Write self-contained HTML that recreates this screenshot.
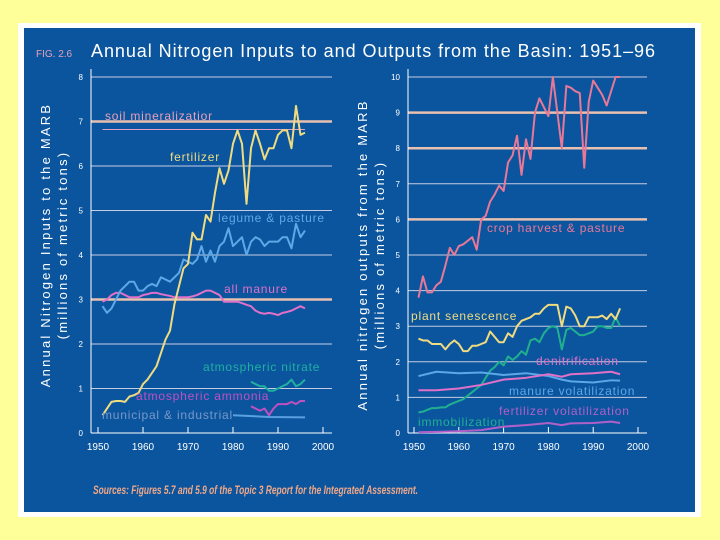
<!DOCTYPE html>
<html><head><meta charset="utf-8"><style>
body{margin:0;width:720px;height:540px;background:#ffff99;overflow:hidden;font-family:"Liberation Sans",sans-serif}
svg{position:absolute;left:0;top:0}
</style></head><body>
<svg id="s" width="720" height="540">
<rect x="18" y="23" width="683" height="494" fill="#ffffff"/>
<rect x="24" y="28" width="671" height="484" fill="#0b559e"/>
<text x="36" y="57" fill="#e8a0b8" font-size="10">FIG. 2.6</text>
<text x="91" y="57" fill="#ffffff" font-size="18" textLength="564" lengthAdjust="spacing">Annual Nitrogen Inputs to and Outputs from the Basin: 1951–96</text>
<text transform="translate(50,245) rotate(-90)" text-anchor="middle" fill="#ffffff" font-size="13" letter-spacing="2.2">Annual Nitrogen Inputs to the MARB</text>
<text transform="translate(67,245) rotate(-90)" text-anchor="middle" fill="#ffffff" font-size="13" letter-spacing="2.2">(millions of metric tons)</text>
<text transform="translate(367,255) rotate(-90)" text-anchor="middle" fill="#ffffff" font-size="13" letter-spacing="2.2">Annual nitrogen outputs from the MARB</text>
<text transform="translate(384,255) rotate(-90)" text-anchor="middle" fill="#ffffff" font-size="13" letter-spacing="2.2">(millions of metric tons)</text>
<text x="93" y="494" fill="#f0a888" font-size="11.5" font-weight="bold" font-style="italic" textLength="325" lengthAdjust="spacingAndGlyphs">Sources: Figures 5.7 and 5.9 of the Topic 3 Report for the Integrated Assessment.</text>
<g id="g"></g>
</svg>
<script>
const years = [];for(let y=1951;y<=1996;y++)years.push(y);
const fertilizer=[0.4,0.55,0.7,0.72,0.72,0.7,0.82,0.85,0.9,1.1,1.2,1.35,1.5,1.8,2.1,2.3,2.9,3.3,3.7,3.8,4.5,4.35,4.35,4.9,4.75,5.4,5.95,5.6,5.9,6.5,6.8,6.5,5.15,6.4,6.8,6.5,6.15,6.4,6.4,6.7,6.8,6.8,6.4,7.35,6.7,6.75];
const legume=[2.85,2.7,2.8,3.0,3.2,3.3,3.4,3.4,3.2,3.2,3.3,3.35,3.3,3.5,3.45,3.4,3.5,3.6,3.9,3.85,3.8,3.9,4.2,3.85,4.1,3.85,4.2,4.3,4.6,4.2,4.3,4.4,4.0,4.3,4.4,4.35,4.2,4.3,4.3,4.3,4.4,4.4,4.15,4.7,4.4,4.55];
const manure=[2.95,3.0,3.1,3.15,3.15,3.1,3.05,3.05,3.05,3.1,3.12,3.15,3.15,3.12,3.1,3.08,3.05,3.05,3.05,3.05,3.07,3.1,3.15,3.2,3.2,3.15,3.1,2.95,2.95,2.95,2.95,2.92,2.88,2.85,2.75,2.7,2.68,2.7,2.68,2.65,2.7,2.72,2.75,2.8,2.85,2.8];
const soilMin=[6.82,6.82];const soilYears=[1951,1996];
const lateYears=[1984,1985,1986,1987,1988,1989,1990,1991,1992,1993,1994,1995,1996];
const atmNitrate=[1.15,1.1,1.05,1.05,0.95,0.95,1.0,1.05,1.1,1.2,1.05,1.1,1.2];
const atmAmmonia=[0.6,0.55,0.5,0.55,0.4,0.55,0.65,0.65,0.65,0.7,0.65,0.72,0.72];
const munYears=[1980,1988,1996];const municipal=[0.4,0.36,0.35];
const crop=[3.8,4.4,3.95,3.95,4.15,4.25,4.7,5.2,5.0,5.25,5.3,5.4,5.5,5.15,6.0,6.1,6.5,6.7,6.95,6.8,7.6,7.8,8.35,7.25,8.25,7.7,9.0,9.4,9.15,8.9,10.0,9.0,8.0,9.75,9.7,9.6,9.55,7.45,9.3,9.9,9.7,9.5,9.2,9.6,10.0,10.0];
const senescence=[2.65,2.6,2.6,2.5,2.5,2.5,2.35,2.5,2.6,2.5,2.3,2.3,2.45,2.45,2.5,2.55,2.85,2.7,2.55,2.55,2.8,2.7,3.0,3.15,3.2,3.25,3.35,3.35,3.5,3.6,3.6,3.6,3.0,3.55,3.5,3.3,3.0,3.0,3.25,3.25,3.25,3.3,3.2,3.35,3.2,3.5];
const immob=[0.58,0.6,0.65,0.7,0.7,0.72,0.72,0.8,0.85,0.9,0.95,1.05,1.15,1.25,1.35,1.55,1.75,1.85,2.0,1.9,2.15,2.05,2.15,2.3,2.2,2.6,2.65,2.55,2.8,2.95,3.0,2.95,2.35,2.9,2.95,2.85,2.75,2.75,2.8,2.85,3.0,3.0,2.95,2.95,3.25,3.0];
const sparseYears=[1951,1955,1960,1965,1970,1975,1980,1983,1985,1990,1994,1996];
const denit=[1.2,1.2,1.25,1.35,1.5,1.55,1.65,1.58,1.65,1.68,1.72,1.65];
const manVol=[1.6,1.72,1.68,1.7,1.63,1.68,1.6,1.5,1.45,1.42,1.48,1.47];
const fertVol=[0.02,0.03,0.05,0.08,0.18,0.22,0.28,0.22,0.27,0.28,0.32,0.28];
const leftTicks=[0,1,2,3,4,5,6,7,8];const rightTicks=[0,1,2,3,4,5,6,7,8,9,10];
const xTicks=[1950,1960,1970,1980,1990,2000];

const NS='http://www.w3.org/2000/svg',g=document.getElementById('g');
function el(t,a,txt){const e=document.createElementNS(NS,t);for(const k in a)e.setAttribute(k,a[k]);if(txt)e.textContent=txt;g.appendChild(e);return e;}
const L={x:y=>98+(y-1950)*4.5,y:v=>433-v*44.5,x0:91,x1:332};
const R={x:y=>414+(y-1950)*4.48,y:v=>433-v*35.6,x0:408,x1:647};
function axes(A,ticks,thick,name){
  ticks.forEach(t=>{
    const th=thick.includes(t);
    if(t>0){const l=el('line',{x1:A.x0,x2:A.x1,y1:A.y(t),y2:A.y(t),stroke:th?'#e8c0b0':'#c8cce0','stroke-width':th?2.5:1});
    }
    const tx=el('text',{x:A.x0-8,y:A.y(t)+3,fill:'#fff','font-size':8,'text-anchor':'end'},String(t));
    
  });
  const ax=el('line',{x1:A.x0,x2:A.x0,y1:A.y(0),y2:A.y(ticks[ticks.length-1])-8,stroke:'#fff','stroke-width':1});
  
  const bx=el('line',{x1:A.x0,x2:A.x1,y1:A.y(0),y2:A.y(0),stroke:'#fff','stroke-width':1});
  
  xTicks.forEach(t=>{
    const m=el('line',{x1:A.x(t),x2:A.x(t),y1:A.y(0),y2:A.y(0)-6,stroke:'#fff'});
    
    const tx=el('text',{x:A.x(t),y:A.y(0)+17,fill:'#fff','font-size':10,'text-anchor':'middle'},String(t));
    
  });
}
axes(L,leftTicks,[3,7],'left');
axes(R,rightTicks,[6,8,9],'right');
function line(A,xs,vs,c,w,name){
  const p=el('polyline',{points:xs.map((x,i)=>A.x(x)+','+A.y(vs[i])).join(' '),fill:'none',stroke:c,'stroke-width':w,'stroke-linejoin':'round'});
  
}
line(L,soilYears,soilMin,'#e0a0c8',1,'soil-mineralization-line');
line(L,years,manure,'#e070c8',2,'all-manure-line');
line(L,years,legume,'#5ea8e8',2,'legume-pasture-line');
line(L,years,fertilizer,'#f0dc80',2,'fertilizer-line');
line(L,lateYears,atmNitrate,'#20b0a0',2,'atmospheric-nitrate-line');
line(L,lateYears,atmAmmonia,'#c050c0',2,'atmospheric-ammonia-line');
line(L,munYears,municipal,'#5aa0e0',2,'municipal-industrial-line');
line(R,sparseYears,fertVol,'#b060c8',2,'fertilizer-volatilization-line');
line(R,years,immob,'#20b090',2,'immobilization-line');
line(R,sparseYears,manVol,'#5aa8e8',2,'manure-volatilization-line');
line(R,sparseYears,denit,'#e070c8',2,'denitrification-line');
line(R,years,senescence,'#f0dc80',2,'plant-senescence-line');
line(R,years,crop,'#e87898',2,'crop-harvest-line');
const labels=[[105,120,'soil mineralizatior','#e8a0b8'],[170,161,'fertilizer','#f0dc80'],[218,222,'legume & pasture','#5ea8e8'],[224,293,'all manure','#e070c8'],[203,371,'atmospheric nitrate','#20b0a0'],[136,400,'atmospheric ammonia','#c050c0'],[102,419,'municipal & industrial','#7898c8'],
[487,232,'crop harvest & pasture','#e87898'],[411,320,'plant senescence','#f0dc80'],[536,365,'denitrification','#e070c8'],[509,395,'manure volatilization','#5aa8e8'],[499,415,'fertilizer volatilization','#b060c8'],[418,426,'immobilization','#20b090']];
labels.forEach(l=>{
  const t=el('text',{x:l[0],y:l[1],fill:l[3],'font-size':12,'letter-spacing':0.8},l[2]);
  
});
</script>
</body></html>
